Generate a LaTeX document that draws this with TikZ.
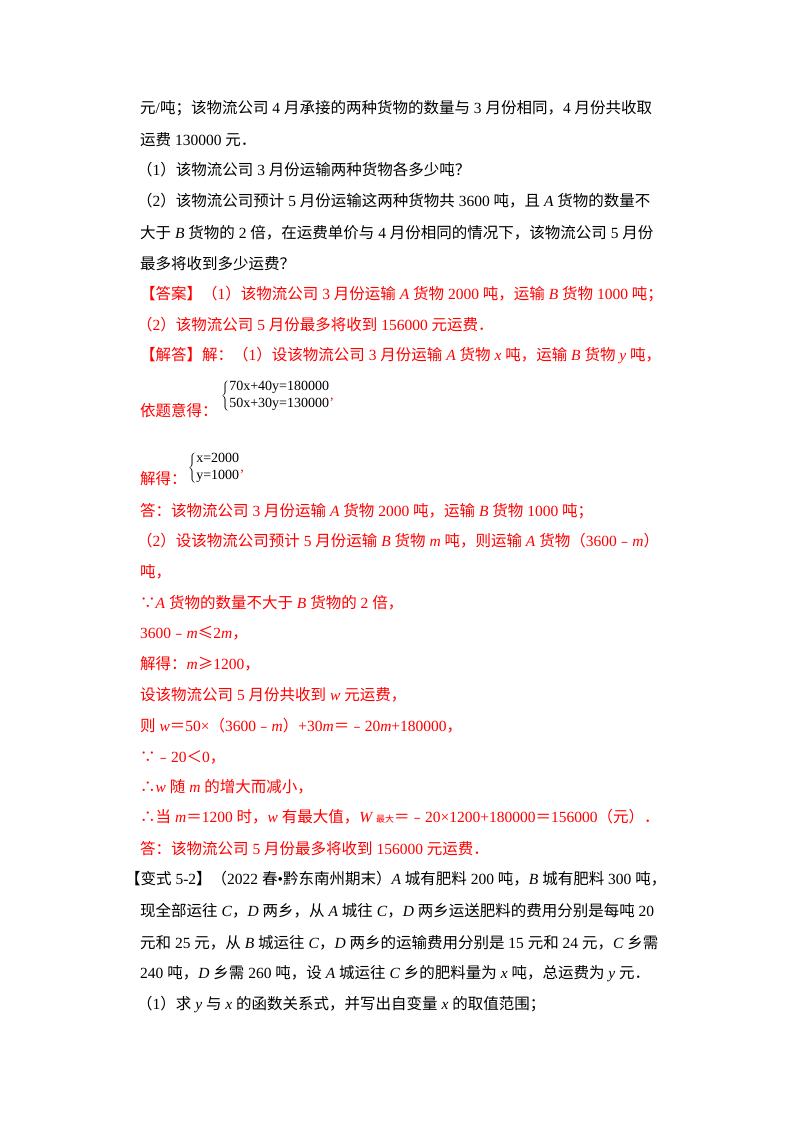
\documentclass[tikz,border=0pt]{standalone}
\usepackage{fontspec}
\setmainfont{Liberation Serif}
\newfontfamily\cjk{Noto Sans CJK SC}
\newXeTeXintercharclass\CJKcls
\newcount\cc
\def\setcls#1#2{\cc=#1\relax\loop\XeTeXcharclass\cc=\CJKcls\ifnum\cc<#2\advance\cc 1\repeat}
\setcls{"4E00}{"9FFF}
\setcls{"3000}{"303F}
\setcls{"FF00}{"FFEF}
\setcls{"FE30}{"FE6F}
\setcls{"2234}{"2235}
\setcls{"2264}{"2265}
\XeTeXinterchartokenstate=1
\XeTeXinterchartoks 0 \CJKcls = {\cjk}
\XeTeXinterchartoks 4095 \CJKcls = {\cjk}
\XeTeXinterchartoks \CJKcls 0 = {\rmfamily}
\XeTeXinterchartoks \CJKcls 4095 = {\rmfamily}
\newcommand\I[1]{\textit{#1}}
\definecolor{ans}{RGB}{255,0,0}
\begin{document}
\begin{tikzpicture}[x=1pt,y=-1pt,
  ln/.style={anchor=west,inner sep=0pt,font=\fontsize{15.5}{18}\selectfont},
  rd/.style={ln,text=ans},
  sys/.style={anchor=west,inner sep=0pt,font=\fontsize{14}{16}\selectfont}]
\useasboundingbox[fill=white] (0,0) rectangle (800,1132);
\node[ln] (l1) at (140,108) {元/吨；该物流公司 4 月承接的两种货物的数量与 3 月份相同，4 月份共收取};
\node[ln] (l2) at (140,140) {运费 130000 元．};
\node[ln] (l3) at (137,170) {（1）该物流公司 3 月份运输两种货物各多少吨？};
\node[ln] (l4) at (137,201) {（2）该物流公司预计 5 月份运输这两种货物共 3600 吨，且 \I{A} 货物的数量不};
\node[ln] (l5) at (140,233) {大于 \I{B} 货物的 2 倍，在运费单价与 4 月份相同的情况下，该物流公司 5 月份};
\node[ln] (l6) at (140,264) {最多将收到多少运费？};
\node[rd] (l7) at (140,294) {【答案】（1）该物流公司 3 月份运输 \I{A} 货物 2000 吨，运输 \I{B} 货物 1000 吨；};
\node[rd] (l8) at (137,325) {（2）该物流公司 5 月份最多将收到 156000 元运费．};
\node[rd] (l9) at (140,356) {【解答】解：（1）设该物流公司 3 月份运输 \I{A} 货物 \I{x} 吨，运输 \I{B} 货物 \I{y} 吨，};
\node[rd] (l10) at (140,411) {依题意得：};
\node[sys] (s1) at (221,396) {$\left\{\begin{tabular}{@{}l@{}}70x+40y=180000\\[1pt]50x+30y=130000\end{tabular}\right.$\textcolor{ans}{,}};
\node[rd] (l11) at (140,479) {解得：};
\node[sys] (s2) at (188,468) {$\left\{\begin{tabular}{@{}l@{}}x=2000\\[1pt]y=1000\end{tabular}\right.$\textcolor{ans}{,}};
\node[rd] (l12) at (140,511) {答：该物流公司 3 月份运输 \I{A} 货物 2000 吨，运输 \I{B} 货物 1000 吨；};
\node[rd] (l13) at (137,541) {（2）设该物流公司预计 5 月份运输 \I{B} 货物 \I{m} 吨，则运输 \I{A} 货物（3600﹣\I{m}）};
\node[rd] (l14) at (140,572) {吨，};
\node[rd] (l15) at (140,603) {∵\I{A} 货物的数量不大于 \I{B} 货物的 2 倍，};
\node[rd] (l16) at (140,633) {3600﹣\I{m}≤2\I{m}，};
\node[rd] (l17) at (140,664) {解得：\I{m}≥1200，};
\node[rd] (l18) at (140,695) {设该物流公司 5 月份共收到 \I{w} 元运费，};
\node[rd] (l19) at (140,726) {则 \I{w}＝50×（3600﹣\I{m}）+30\I{m}＝﹣20\I{m}+180000，};
\node[rd] (l20) at (140,757) {∵﹣20＜0，};
\node[rd] (l21) at (140,787) {∴\I{w} 随 \I{m} 的增大而减小，};
\node[rd] (l22) at (140,817) {∴当 \I{m}＝1200 时，\I{w} 有最大值，\I{W}\,{\fontsize{9}{10}\selectfont 最大}＝﹣20×1200+180000＝156000（元）．};
\node[rd] (l23) at (140,849) {答：该物流公司 5 月份最多将收到 156000 元运费．};
\node[ln] (l24) at (125,879) {【变式 5-2】（2022 春•黔东南州期末）\I{A} 城有肥料 200 吨，\I{B} 城有肥料 300 吨，};
\node[ln] (l25) at (140,911) {现全部运往 \I{C}，\I{D} 两乡，从 \I{A} 城往 \I{C}，\I{D} 两乡运送肥料的费用分别是每吨 20};
\node[ln] (l26) at (140,943) {元和 25 元，从 \I{B} 城运往 \I{C}，\I{D} 两乡的运输费用分别是 15 元和 24 元，\I{C} 乡需};
\node[ln] (l27) at (140,974) {240 吨，\I{D} 乡需 260 吨，设 \I{A} 城运往 \I{C} 乡的肥料量为 \I{x} 吨，总运费为 \I{y} 元．};
\node[ln] (l28) at (137,1005) {（1）求 \I{y} 与 \I{x} 的函数关系式，并写出自变量 \I{x} 的取值范围；};
\end{tikzpicture}
\end{document}
